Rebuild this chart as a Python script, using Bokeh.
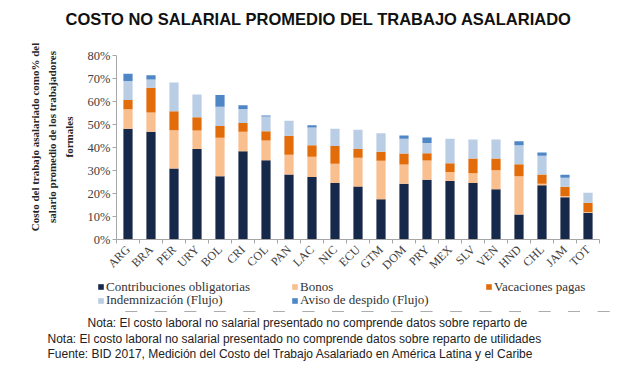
from bokeh.plotting import figure
from bokeh.layouts import column
from bokeh.models import (ColumnDataSource, Range1d, FixedTicker, PrintfTickFormatter,
                          Legend, LegendItem, Title)
from bokeh.embed import file_html
from bokeh.resources import INLINE

countries = ["ARG", "BRA", "PER", "URY", "BOL", "CRI", "COL", "PAN", "LAC", "NIC", "ECU",
             "GTM", "DOM", "PRY", "MEX", "SLV", "VEN", "HND", "CHL", "JAM", "TOT"]
contribuciones = [48.2, 46.8, 30.9, 39.3, 27.5, 38.4, 34.5, 28.3, 27.2, 24.6, 23.0,
                  17.5, 24.2, 26.0, 25.4, 24.6, 21.9, 10.9, 23.6, 18.4, 11.6]
bonos = [8.4, 8.4, 16.6, 8.1, 16.7, 8.4, 8.5, 8.5, 8.8, 8.3, 12.5,
         16.7, 8.4, 8.3, 4.0, 4.2, 8.2, 16.6, 0.6, 0.5, 0.4]
vacaciones = [4.1, 10.8, 8.3, 5.8, 5.1, 3.9, 4.1, 8.3, 5.0, 7.8, 3.9,
              3.9, 4.8, 3.2, 3.8, 6.4, 5.1, 5.2, 4.1, 4.0, 4.0]
indemnizacion = [8.2, 3.6, 12.5, 9.8, 8.4, 6.0, 6.4, 6.5, 7.7, 7.4, 8.3,
                 8.1, 6.4, 4.5, 10.6, 8.3, 8.3, 8.3, 8.1, 4.0, 4.3]
aviso = [3.2, 1.8, 0.0, 0.0, 5.1, 1.7, 0.4, 0.0, 1.0, 0.0, 0.0,
         0.0, 1.4, 2.3, 0.0, 0.0, 0.0, 1.7, 1.4, 1.3, 0.0]
series_names = ["Contribuciones obligatorias", "Bonos", "Vacaciones pagas",
                "Indemnización (Flujo)", "Aviso de despido (Flujo)"]
y_ticks = [0, 10, 20, 30, 40, 50, 60, 70, 80]

title_text = "COSTO NO SALARIAL PROMEDIO DEL TRABAJO ASALARIADO"
y_label = "Costo del trabajo asalariado como% del\nsalario promedio de los trabajadores\nformales"
notes = ["Nota:  El costo laboral no salarial presentado no comprende datos sobre reparto de",
         "Nota:  El costo laboral no salarial presentado no comprende datos sobre reparto de utilidades",
         "Fuente: BID 2017, Medición del Costo del Trabajo Asalariado en América Latina y el Caribe"]

colors = ["#16294a", "#f9bf8f", "#e36c0a", "#b9cde5", "#4f86c6"]
keys = ["contribuciones", "bonos", "vacaciones", "indemnizacion", "aviso"]

n = len(countries)
xpos = [i + 0.5 for i in range(n)]
src = ColumnDataSource(dict(x=xpos, contribuciones=contribuciones, bonos=bonos,
                            vacaciones=vacaciones, indemnizacion=indemnizacion, aviso=aviso))

SERIF = "Liberation Serif"
SANS = "Liberation Sans"
AXIS_GREY = "#a6a6a6"

# ---------------- main chart ----------------
p = figure(frame_width=483, frame_height=205, x_range=Range1d(0, n),
           y_range=Range1d(0, 80 * 205 / 184),
           output_backend="svg", toolbar_location=None,
           min_border_left=116, min_border_right=21, min_border_top=0, min_border_bottom=0)
p.outline_line_color = None
p.xgrid.grid_line_color = None
p.ygrid.grid_line_color = None

p.vbar_stack(keys, x="x", width=0.4, color=colors, line_color=None, source=src)

ya = p.yaxis[0]
ya.ticker = FixedTicker(ticks=y_ticks, minor_ticks=[])
ya.formatter = PrintfTickFormatter(format="%d%%")
ya.bounds = (0, 80)
ya.axis_line_color = AXIS_GREY
ya.major_tick_line_color = AXIS_GREY
ya.major_tick_out = 4
ya.major_tick_in = 0
ya.minor_tick_line_color = None
ya.major_label_text_font = SERIF
ya.major_label_text_font_size = "12.5px"
ya.major_label_text_color = "#404040"
ya.major_label_standoff = 2
ya.axis_label = y_label
ya.axis_label_text_font = SERIF
ya.axis_label_text_font_style = "bold"
ya.axis_label_text_font_size = "11px"
ya.axis_label_text_line_height = 1.4
ya.axis_label_text_color = "#262626"
ya.axis_label_standoff = 10

xa = p.xaxis[0]
xa.ticker = FixedTicker(ticks=xpos, minor_ticks=list(range(n + 1)))
xa.major_label_overrides = {x: c for x, c in zip(xpos, countries)}
xa.axis_line_color = AXIS_GREY
xa.major_tick_line_color = None
xa.major_tick_out = 4
xa.major_tick_in = 0
xa.minor_tick_line_color = AXIS_GREY
xa.minor_tick_out = 4
xa.minor_tick_in = 0
xa.major_label_orientation = 0.785398
xa.major_label_text_font = SERIF
xa.major_label_text_font_size = "12px"
xa.major_label_text_color = "#404040"
xa.major_label_standoff = 4

t = Title(text=title_text, align="left", offset=-51, text_font=SANS, text_font_style="bold",
          text_font_size="16.5px", text_color="#111111", standoff=14)
p.add_layout(t, "above")

# ---------------- legend + notes strip ----------------
p2 = figure(frame_width=620, frame_height=31, x_range=Range1d(0, n), y_range=Range1d(1000, 1001),
            x_axis_type=None, y_axis_type=None, output_backend="svg", toolbar_location=None,
            min_border_left=0, min_border_right=0, min_border_top=0, min_border_bottom=0)
p2.outline_line_color = None
# same stacked series, kept far outside this strip's range, so the legend swatches match
renderers = p2.vbar_stack(keys, x="x", width=0.4, color=colors, line_color=None, source=src)

leg_style = dict(orientation="horizontal", border_line_color=None, background_fill_alpha=0,
                 label_text_font=SERIF, label_text_font_size="13px",
                 label_text_line_height=1.0, label_text_color="#333333",
                 glyph_width=7, glyph_height=7, label_standoff=2, spacing=5,
                 label_width=180, padding=0, margin=0)
items = [LegendItem(label=nm, renderers=[r]) for nm, r in zip(series_names, renderers)]
leg1 = Legend(items=items[:3], location=(97, 16.5), **leg_style)
leg2 = Legend(items=items[3:], location=(97, 3), **leg_style)
p2.add_layout(leg1)
p2.add_layout(leg2)

nbsp = "\u00a0" * 12
notes_text = nbsp + notes[0] + "\n" + notes[1] + "\n" + notes[2]
nt = Title(text=notes_text, align="left", offset=-69, text_font=SANS, text_font_style="normal",
           text_font_size="12px", text_line_height=1.09, text_color="#222222", standoff=5)
p2.add_layout(nt, "below")

layout = column(p, p2, spacing=0)
open("out.html", "w").write(file_html(layout, INLINE))
